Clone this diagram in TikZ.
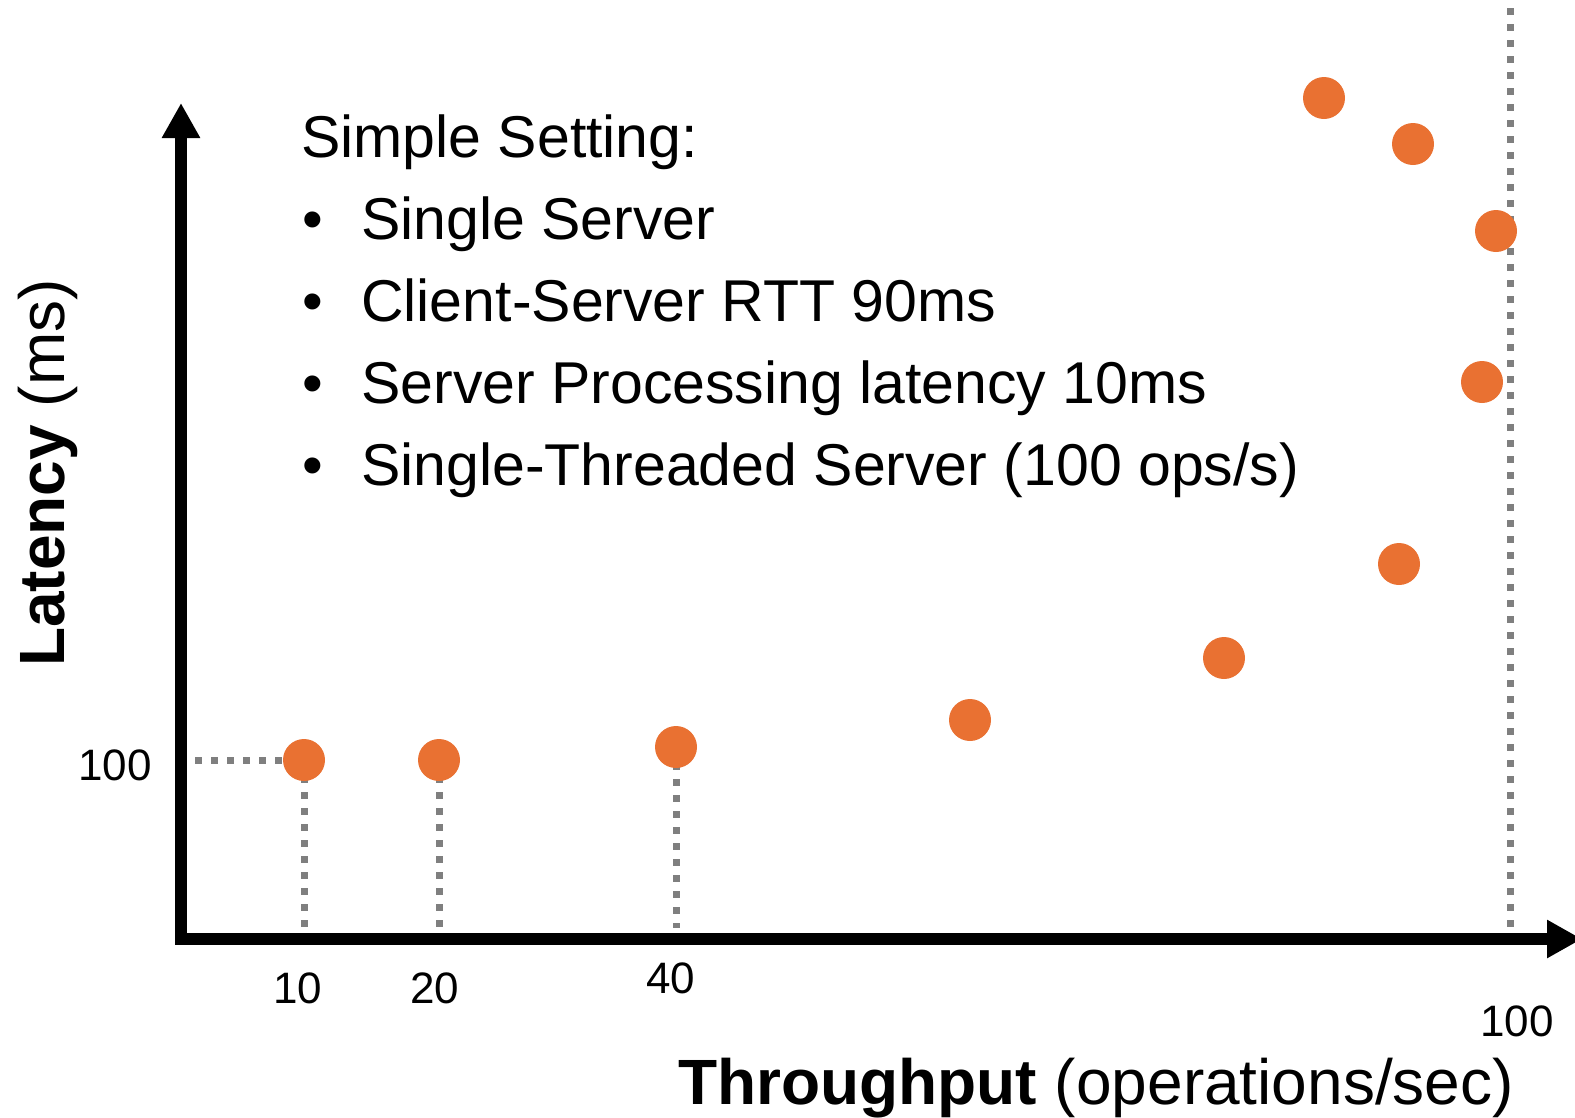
\documentclass[tikz,border=0pt]{standalone}
\usepackage{fontspec}
\setmainfont{Liberation Sans}
\usetikzlibrary{arrows.meta,backgrounds}
\definecolor{dotorange}{HTML}{E97132}
\definecolor{guidegray}{HTML}{7F7F7F}
\tikzset{
  sample/.style={circle, fill=dotorange, inner sep=0pt, minimum size=42pt},
  guide/.style={guidegray, line width=7pt, dash pattern=on 7pt off 9pt},
  axisline/.style={line width=12pt, line join=miter,
    {Triangle[length=35pt,width=36pt]}-{Triangle[length=35pt,width=36pt]}},
  body/.style={anchor=base west, inner sep=0pt, font=\fontsize{59}{70}\selectfont},
  tick/.style={anchor=base, inner sep=0pt, font=\fontsize{44}{52}\selectfont},
  axtitle/.style={anchor=base west, inner sep=0pt, font=\fontsize{64}{76}\selectfont}
}
\begin{document}
\begin{tikzpicture}[x=1pt,y=-1pt]
\useasboundingbox (0,0) rectangle (1575,1117);
\clip (0,0) rectangle (1575,1117);

% measured samples
\node[sample] (p1)  at (304,760) {};
\node[sample] (p2)  at (439,760) {};
\node[sample] (p3)  at (676,747) {};
\node[sample] (p4)  at (970,720) {};
\node[sample] (p5)  at (1224,658) {};
\node[sample] (p6)  at (1399,564) {};
\node[sample] (p7)  at (1482,382) {};
\node[sample] (p8)  at (1496,231) {};
\node[sample] (p9)  at (1413,144) {};
\node[sample] (p10) at (1324,98) {};

% axis corner and reference coordinates
\coordinate (O) at (181,939);
\coordinate (ytip) at (181,103);
\coordinate (xtip) at (1582,939);
\coordinate (hstart) at (195,760);
\coordinate (captop) at (1510,8);
\coordinate (capbot) at (1510,933);

% dotted guides, kept beneath the samples
\begin{pgfonlayer}{background}
\draw[guide] (hstart) -- (p1.center);
\draw[guide] (p1.center) -- (p1.center |- capbot);
\draw[guide] (p2.center) -- (p2.center |- capbot);
\draw[guide] (p3.center) -- (676,928);
\draw[guide] (captop) -- (capbot);
\end{pgfonlayer}

% axes
\draw[axisline] (ytip) -- (O) -- (xtip);

% setting description
\node[body] (head) at (301,157) {Simple Setting:};
\node[body] (b1) at (302,239) {•};
\node[body] (b2) at (302,321) {•};
\node[body] (b3) at (302,403) {•};
\node[body] (b4) at (302,485) {•};
\node[body] (t1) at (361,239) {Single Server};
\node[body] (t2) at (361,321) {Client-Server RTT 90ms};
\node[body] (t3) at (361,403) {Server Processing latency 10ms};
\node[body] (t4) at (361,485) {Single-Threaded Server (100 ops/s)};

% tick labels
\node[tick, anchor=base east] (y100) at (152,780) {100};
\node[tick] (x10) at (298,1003) {10};
\node[tick] (x20) at (435,1003) {20};
\node[tick] (x40) at (671,993) {40};
\node[tick, anchor=base east] (x100) at (1554,1036) {100};

% axis titles
\node[axtitle, rotate=90] (ylab) at (64,667) {\textbf{Latency} (ms)};
\node[axtitle] (xlab) at (678,1104) {\textbf{Throughput} (operations/sec)};
\end{tikzpicture}
\end{document}
